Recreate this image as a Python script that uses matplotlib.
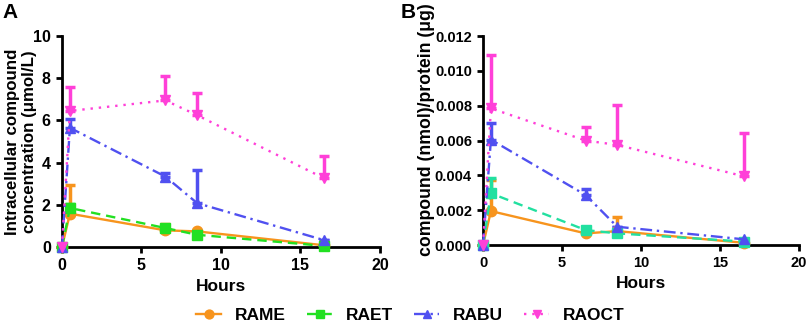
import matplotlib
matplotlib.use("Agg")
import matplotlib.pyplot as plt
import numpy as np

plt.rcParams['font.family'] = ['Liberation Sans', 'DejaVu Sans']
plt.rcParams['font.weight'] = 'bold'

hours = [0, 0.5, 6.5, 8.5, 16.5]
series = ["RAME", "RAET", "RABU", "RAOCT"]

# Panel A: intracellular concentration (umol/L)
a_rame = [0.0, 1.58, 0.79, 0.74, 0.08]
a_rame_err = [0.0, 1.35, 0.30, 0.0, 0.0]
a_raet = [0.0, 1.85, 0.90, 0.58, 0.05]
a_raet_err = [0.0, 0.2, 0.0, 0.0, 0.0]
a_rabu = [0.0, 5.65, 3.34, 2.08, 0.32]
a_rabu_err = [0.0, 0.40, 0.19, 1.55, 0.0]
a_raoct = [0.0, 6.45, 6.95, 6.25, 3.25]
a_raoct_err = [0.0, 1.12, 1.15, 1.05, 1.07]

# Panel B: compound (nmol)/protein (ug)
b_rame = [0.0, 0.00195, 0.00067, 0.00080, 0.00013]
b_rame_err = [0.0, 0.00178, 0.0, 0.00083, 0.0]
b_raet = [0.0, 0.00297, 0.00086, 0.00067, 0.00020]
b_raet_err = [0.0, 0.00086, 0.0, 0.0, 0.0]
b_rabu = [0.0, 0.00605, 0.00287, 0.00105, 0.00033]
b_rabu_err = [0.0, 0.00094, 0.00033, 0.0, 0.0]
b_raoct = [0.0, 0.00785, 0.00600, 0.00575, 0.00395]
b_raoct_err = [0.0, 0.00305, 0.00080, 0.00229, 0.00246]

colors_a = ["#F7941D", "#22E022", "#5050F0", "#FF40D8"]
colors_b = ["#F7941D", "#22E0A0", "#5050F0", "#FF40D8"]
markers = ["o", "s", "^", "v"]
styles = ["-", (0, (4, 2.5)), (0, (5, 2, 1, 2)), (0, (1, 2.5))]

fig = plt.figure(figsize=(8.08, 3.25), dpi=100)
axA = fig.add_axes([0.0767, 0.24, 0.3936, 0.649])
axB = fig.add_axes([0.5978, 0.246, 0.391, 0.643])

def draw(ax, vals, errs, colors, ticksize):
    handles = []
    for name, v, e, c, m, ls in zip(series, vals, errs, colors, markers, styles):
        v = np.array(v)
        e = np.array(e)
        ax.errorbar(hours, v, yerr=[np.zeros_like(e), e], fmt='none', ecolor=c,
                    elinewidth=2.5, capsize=3.8, capthick=2.5, zorder=2)
        h, = ax.plot(hours, v, color=c, linestyle=ls, linewidth=1.7, marker=m,
                     markersize=7.5, markeredgecolor=c, markerfacecolor=c,
                     label=name, zorder=3, clip_on=False)
        handles.append(h)
    for s in ["top", "right"]:
        ax.spines[s].set_visible(False)
    for s in ["left", "bottom"]:
        ax.spines[s].set_linewidth(2.0)
    ax.tick_params(width=2.0, length=4.5, labelsize=ticksize)
    ax.set_xlim(0, 20)
    ax.set_xticks([0, 5, 10, 15, 20])
    ax.set_xlabel("Hours", fontsize=12.5, fontweight='bold', labelpad=4)
    return handles

handles = draw(axA, [a_rame, a_raet, a_rabu, a_raoct],
               [a_rame_err, a_raet_err, a_rabu_err, a_raoct_err], colors_a, 11.5)
axA.set_ylim(0, 10)
axA.set_yticks([0, 2, 4, 6, 8, 10])
axA.set_ylabel("Intracellular compound\nconcentration (μmol/L)", fontsize=12.2,
               fontweight='bold', linespacing=1.1)
axA.yaxis.set_label_coords(-0.08, 0.5)

draw(axB, [b_rame, b_raet, b_rabu, b_raoct],
     [b_rame_err, b_raet_err, b_rabu_err, b_raoct_err], colors_b, 10.5)
axB.set_ylim(0, 0.012)
axB.set_yticks([0, 0.002, 0.004, 0.006, 0.008, 0.010, 0.012])
axB.set_yticklabels(["0.000", "0.002", "0.004", "0.006", "0.008", "0.010", "0.012"])
axB.set_ylabel("compound (nmol)/protein (μg)", fontsize=12.7, fontweight='bold')
axB.yaxis.set_label_coords(-0.152, 0.55)

for ax in (axA, axB):
    for lab in ax.get_xticklabels() + ax.get_yticklabels():
        lab.set_fontweight('bold')

fig.text(0.003, 0.99, "A", fontsize=15, fontweight='bold', va='top')
fig.text(0.496, 0.99, "B", fontsize=15, fontweight='bold', va='top')

leg = fig.legend(handles, series, loc='center', bbox_to_anchor=(0.508, 0.03), ncol=4,
                 frameon=False, fontsize=12.5, handlelength=1.45, columnspacing=1.2,
                 handletextpad=0.8, markerscale=0.85, borderpad=0.2)
for t in leg.get_texts():
    t.set_fontweight('bold')

fig.savefig("out.png", dpi=100)
